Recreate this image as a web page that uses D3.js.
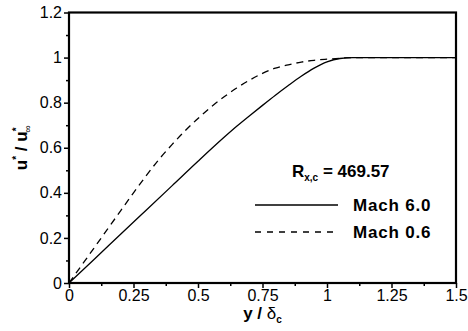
<!DOCTYPE html>
<html>
<head>
<meta charset="utf-8">
<script src="https://cdn.jsdelivr.net/npm/d3@7"></script>
<style>
  body { margin: 0; background: #fff; }
  text { font-family: "Liberation Sans", Arial, sans-serif; fill: #000; }
</style>
</head>
<body>
<svg id="chart" width="468" height="331"></svg>
<script>
// values
const mach6X = [0, 0.1, 0.2, 0.3, 0.4, 0.5, 0.6, 0.65, 0.7, 0.75, 0.8, 0.85, 0.9, 0.95, 1.0, 1.05, 1.1, 1.2, 1.3, 1.4, 1.5];
const mach6Y = [0, 0.108, 0.216, 0.324, 0.432, 0.54, 0.645, 0.695, 0.742, 0.788, 0.833, 0.876, 0.917, 0.953, 0.981, 0.996, 1.0, 1.0, 1.0, 1.0, 1.0];
const mach06X = [0, 0.05, 0.1, 0.15, 0.2, 0.25, 0.3, 0.35, 0.4, 0.45, 0.5, 0.55, 0.6, 0.65, 0.7, 0.75, 0.8, 0.85, 0.9, 0.95, 1.0, 1.05, 1.1, 1.2, 1.3, 1.4, 1.5];
const mach06Y = [0, 0.08, 0.16, 0.24, 0.32, 0.4, 0.477, 0.55, 0.615, 0.675, 0.73, 0.78, 0.825, 0.865, 0.9, 0.93, 0.953, 0.968, 0.98, 0.988, 0.993, 0.997, 1.0, 1.0, 1.0, 1.0, 1.0];
const xTicks = [0, 0.25, 0.5, 0.75, 1, 1.25, 1.5];
const xMinor = [0.125, 0.375, 0.625, 0.875, 1.125, 1.375];
const yTicks = [0, 0.2, 0.4, 0.6, 0.8, 1, 1.2];
const yMinor = [0.1, 0.3, 0.5, 0.7, 0.9, 1.1];
const legendLabels = ['Mach 6.0', 'Mach 0.6'];

const svg = d3.select('#chart');
const margin = {top: 12.5, right: 12, bottom: 48, left: 69};
const width = 468 - margin.left - margin.right;
const height = 331 - margin.top - margin.bottom;
const g = svg.append('g').attr('transform', `translate(${margin.left}, ${margin.top})`);

const x = d3.scaleLinear().domain([0, 1.5]).range([0, width]);
const y = d3.scaleLinear().domain([0, 1.2]).range([height, 0]);

// axes: major + minor ticks, outward
const fmt = d => String(d);
g.append('g').attr('class', 'x-minor').attr('transform', `translate(0, ${height})`)
  .call(d3.axisBottom(x).tickValues(xMinor).tickSize(3).tickFormat(''));
g.append('g').attr('class', 'x-axis').attr('transform', `translate(0, ${height})`)
  .call(d3.axisBottom(x).tickValues(xTicks).tickSize(5).tickPadding(2).tickFormat(fmt));
g.append('g').attr('class', 'y-minor')
  .call(d3.axisLeft(y).tickValues(yMinor).tickSize(3).tickFormat(''));
g.append('g').attr('class', 'y-axis')
  .call(d3.axisLeft(y).tickValues(yTicks).tickSize(5).tickPadding(2).tickFormat(fmt));

g.selectAll('.domain').remove();
g.selectAll('.tick line').attr('stroke', '#000').attr('stroke-width', 1.5);
g.selectAll('.x-axis text, .y-axis text')
  .style('font-family', '"Liberation Sans", Arial, sans-serif')
  .style('font-size', '16px').attr('fill', '#000');

// frame
g.append('rect')
  .attr('width', width).attr('height', height)
  .attr('fill', 'none').attr('stroke', '#000').attr('stroke-width', 2.2);

const line = d3.line().curve(d3.curveMonotoneX)
  .x(d => x(d[0])).y(d => y(d[1]));

g.append('path')
  .datum(d3.zip(mach6X, mach6Y))
  .attr('fill', 'none').attr('stroke', '#000').attr('stroke-width', 1.3)
  .attr('d', line);

g.append('path')
  .datum(d3.zip(mach06X, mach06Y))
  .attr('fill', 'none').attr('stroke', '#000').attr('stroke-width', 1.3)
  .attr('stroke-dasharray', '7,5')
  .attr('d', line);

// legend
const leg = svg.append('g');
const r = leg.append('text').attr('x', 292).attr('y', 177)
  .style('font-size', '17px').style('font-weight', 'bold');
r.append('tspan').text('R');
r.append('tspan').attr('dy', 4).style('font-size', '10px').text('x,c');
r.append('tspan').attr('dy', -4).text(' = 469.57');

legendLabels.forEach((lab, i) => {
  const ly = 205 + i * 27;
  leg.append('line')
    .attr('x1', 255).attr('x2', 338).attr('y1', ly).attr('y2', ly)
    .attr('stroke', '#000').attr('stroke-width', 1.3)
    .attr('stroke-dasharray', i === 1 ? '6,6' : null);
  leg.append('text').attr('x', 353).attr('y', ly + 6)
    .style('font-size', '17px').style('font-weight', 'bold')
    .style('letter-spacing', '0.8px')
    .text(lab);
});

// axis titles
const xl = svg.append('text')
  .attr('x', margin.left + width / 2).attr('y', 319)
  .attr('text-anchor', 'middle')
  .style('font-size', '17px').style('font-weight', 'bold');
xl.append('tspan').text('y / ');
xl.append('tspan').style('font-weight', 'normal').text('δ');
xl.append('tspan').attr('dy', 4).style('font-size', '10px').text('c');

const yl = svg.append('text')
  .attr('transform', `translate(27, ${margin.top + height / 2}) rotate(-90)`)
  .attr('text-anchor', 'middle')
  .style('font-size', '17px').style('font-weight', 'bold');
yl.append('tspan').text('u');
yl.append('tspan').attr('dy', -7).style('font-size', '10px').text('*');
yl.append('tspan').attr('dy', 7).text(' / u');
yl.append('tspan').attr('dy', -7).style('font-size', '10px').text('*');
yl.append('tspan').attr('dx', -5).attr('dy', 11).style('font-size', '10px').style('font-weight', 'normal').text('∞');
</script>
</body>
</html>
